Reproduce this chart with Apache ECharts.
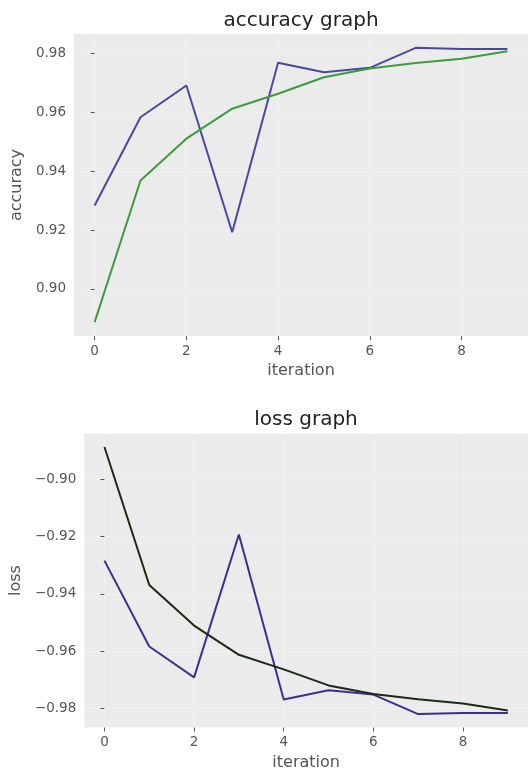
<!DOCTYPE html>
<html>
<head>
<meta charset="utf-8">
<script src="https://cdn.jsdelivr.net/npm/echarts@6/dist/echarts.min.js"></script>
<style>
  html, body { margin: 0; padding: 0; background: #ffffff; }
  #chart { width: 530px; height: 774px; }
</style>
</head>
<body>
<div id="chart"></div>
<script>
// ---- data ----
const iterations = [0, 1, 2, 3, 4, 5, 6, 7, 8, 9];
const accBlue  = [0.9284, 0.9584, 0.9692, 0.9193, 0.9769, 0.9737, 0.9752, 0.9820, 0.9816, 0.9816];
const accGreen = [0.8887, 0.9369, 0.9511, 0.9613, 0.9664, 0.9720, 0.9750, 0.9768, 0.9783, 0.9808];
const lossBlue  = [-0.9284, -0.9584, -0.9692, -0.9193, -0.9769, -0.9737, -0.9752, -0.9820, -0.9816, -0.9816];
const lossBlack = [-0.8887, -0.9369, -0.9511, -0.9613, -0.9664, -0.9720, -0.9750, -0.9768, -0.9783, -0.9808];
const xTicks = [0, 2, 4, 6, 8];
const accTicks = [0.90, 0.92, 0.94, 0.96, 0.98];
const lossTicks = [-0.98, -0.96, -0.94, -0.92, -0.90];

const FONT = 'DejaVu Sans';
const TICK_COLOR = '#555555';

function pairs(xs, ys) { return xs.map((x, i) => [x, ys[i]]); }

function xAxisCfg(gridIndex) {
  return {
    type: 'value', gridIndex: gridIndex,
    min: -0.45, max: 9.45,
    name: 'iteration', nameLocation: 'middle', nameGap: 27,
    nameTextStyle: { fontFamily: FONT, fontSize: 16, color: TICK_COLOR, verticalAlign: 'top' },
    axisLine: { show: false },
    axisTick: { show: true, inside: false, length: 4, customValues: xTicks, lineStyle: { color: TICK_COLOR, width: 1 } },
    axisLabel: { customValues: xTicks, margin: 8, fontFamily: FONT, fontSize: 13.5, color: TICK_COLOR },
    splitLine: { show: true, lineStyle: { color: 'rgba(255,255,255,0.25)', width: 1 } }
  };
}

function yAxisCfg(gridIndex, name, ticks, min, max, gap) {
  return {
    type: 'value', gridIndex: gridIndex,
    min: min, max: max,
    name: name, nameLocation: 'middle', nameGap: gap,
    nameTextStyle: { fontFamily: FONT, fontSize: 16, color: TICK_COLOR },
    axisLine: { show: false },
    axisTick: { show: true, inside: false, length: 4, customValues: ticks, lineStyle: { color: TICK_COLOR, width: 1 } },
    axisLabel: {
      customValues: ticks, margin: 8, fontFamily: FONT, fontSize: 13.5, color: TICK_COLOR,
      formatter: v => (v < 0 ? '\u2212' : '') + Math.abs(v).toFixed(2)
    },
    splitLine: { show: true, lineStyle: { color: 'rgba(255,255,255,0.25)', width: 1 } }
  };
}

function lineSeries(xi, yi, data, color) {
  return {
    type: 'line', xAxisIndex: xi, yAxisIndex: yi,
    data: data, showSymbol: false, symbol: 'none', smooth: false,
    lineStyle: { color: color, width: 2 }, animation: false
  };
}

const chart = echarts.init(document.getElementById('chart'), null, { renderer: 'canvas' });
chart.setOption({
  backgroundColor: '#ffffff',
  animation: false,
  grid: [
    { left: 74, top: 34, width: 454, height: 302, show: true, backgroundColor: '#ebebeb', borderWidth: 0, containLabel: false },
    { left: 83, top: 433.5, width: 445, height: 294, show: true, backgroundColor: '#ebebeb', borderWidth: 0, containLabel: false }
  ],
  xAxis: [xAxisCfg(0), xAxisCfg(1)],
  yAxis: [
    yAxisCfg(0, 'accuracy', accTicks, 0.884, 0.9867, 43),
    yAxisCfg(1, 'loss', lossTicks, -0.9867, -0.884, 54)
  ],
  graphic: [
    { type: 'text', x: 301, y: 20.5, style: { text: 'accuracy graph', font: '20px "DejaVu Sans"', fill: '#222222', textAlign: 'center', textVerticalAlign: 'middle' } },
    { type: 'text', x: 306, y: 420, style: { text: 'loss graph', font: '20px "DejaVu Sans"', fill: '#222222', textAlign: 'center', textVerticalAlign: 'middle' } }
  ],
  series: [
    lineSeries(0, 0, pairs(iterations, accBlue), '#4a4a9c'),
    lineSeries(0, 0, pairs(iterations, accGreen), '#3f9a3f'),
    lineSeries(1, 1, pairs(iterations, lossBlue), '#3d2f8e'),
    lineSeries(1, 1, pairs(iterations, lossBlack), '#1c2a14')
  ]
});
</script>
</body>
</html>
